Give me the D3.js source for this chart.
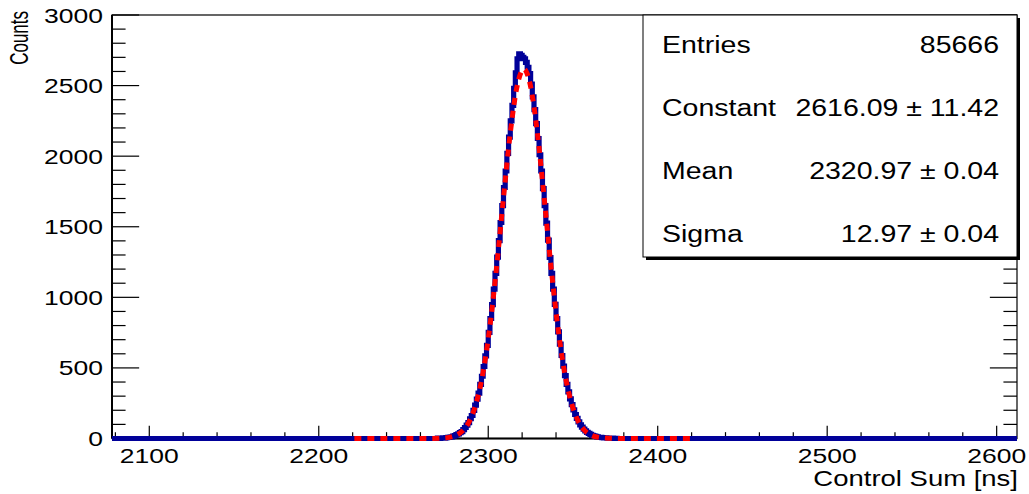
<!DOCTYPE html>
<html>
<head>
<meta charset="utf-8">
<script src="https://cdn.jsdelivr.net/npm/d3@7"></script>
<style>
  html, body { margin: 0; padding: 0; background: #fff; }
  svg { display: block; }
  text { font-family: "Liberation Sans", Arial, Helvetica, sans-serif; fill: #000; }
</style>
</head>
<body>
<svg id="main-svg"></svg>
<script>
// histogram: 1 ns bins, counts start at bin 2270, everything else is empty
const xRange = [2078, 2612];
const yRange = [0, 3000];
const histStart = 2270;
const histCounts = [
    2, 1, 3, 4, 3, 6, 8, 10, 12, 17,
    21, 27, 33, 42, 49, 63, 78, 95, 112, 140,
    163, 199, 236, 279, 322, 383, 441, 510, 585, 660,
    752, 850, 948, 1058, 1170, 1285, 1402, 1530, 1650, 1778,
    1895, 2020, 2135, 2250, 2360, 2480, 2590, 2690, 2725, 2715,
    2700, 2690, 2665, 2630, 2585, 2510, 2420, 2330, 2230, 2125,
    2010, 1895, 1770, 1650, 1525, 1405, 1282, 1170, 1058, 950,
    850, 756, 668, 588, 512, 446, 384, 330, 281, 240,
    203, 170, 142, 118, 97, 80, 66, 54, 44, 36,
    29, 23, 19, 15, 12, 9, 8, 6, 5, 4,
    3, 3, 2, 2, 1, 1
];

// gaussian fit curve (red dashed)
const fitX = [2221, 2262, 2267, 2273, 2277, 2281, 2285, 2289, 2293, 2297, 2301, 2305, 2309, 2313, 2317,
              2321, 2325, 2329, 2333, 2337, 2341, 2345, 2349, 2353, 2357, 2361, 2365, 2369, 2375, 2380, 2419];
const fitY = [0, 0, 0.5, 2.8, 8.3, 22.5, 55.5, 125, 255, 472, 797, 1222, 1705, 2163, 2494,
              2616, 2494, 2163, 1705, 1222, 797, 472, 255, 125, 55.5, 22.5, 8.3, 2.8, 0.5, 0, 0];

const xMajor = [2100, 2200, 2300, 2400, 2500, 2600];
const xMinor = d3.range(2080, 2612, 20);
const yMajor = [0, 500, 1000, 1500, 2000, 2500, 3000];
const yMinor = d3.range(0, 3001, 100);

const statNames = ["Entries", "Constant", "Mean", "Sigma"];
const statValues = ["85666", "2616.09 \u00b1 11.42", "2320.97 \u00b1 0.04", "12.97 \u00b1 0.04"];

const W = 1029, H = 494;
const frame = { left: 112, right: 1017, top: 15, bottom: 438.5 };
const squash = 0.79; // text in the picture is squeezed vertically

const svg = d3.select("#main-svg").attr("width", W).attr("height", H);

const x = d3.scaleLinear().domain(xRange).range([frame.left, frame.right]);
const y = d3.scaleLinear().domain(yRange).range([frame.bottom, frame.top]);

// frame
svg.append("rect")
    .attr("x", frame.left).attr("y", frame.top)
    .attr("width", frame.right - frame.left).attr("height", frame.bottom - frame.top)
    .attr("fill", "none").attr("stroke", "#000").attr("stroke-width", 1.2);

// y axis ticks (left + right)
const tickLenY = 0.03 * (frame.right - frame.left);
const tickLenX = 0.03 * (frame.bottom - frame.top);
const yt = svg.append("g");
yMinor.forEach(v => {
    const len = (v % 500 === 0) ? tickLenY : tickLenY / 2;
    yt.append("line").attr("x1", frame.left).attr("x2", frame.left + len)
        .attr("y1", y(v)).attr("y2", y(v)).attr("stroke", "#000").attr("stroke-width", 1.2);
    yt.append("line").attr("x1", frame.right).attr("x2", frame.right - len)
        .attr("y1", y(v)).attr("y2", y(v)).attr("stroke", "#000").attr("stroke-width", 1.2);
});
svg.append("line").attr("x1", frame.left).attr("x2", frame.left)
    .attr("y1", frame.top).attr("y2", frame.bottom).attr("stroke", "#000").attr("stroke-width", 2);

yMajor.forEach(v => {
    svg.append("text")
        .attr("transform", `translate(103, ${y(v) + 7.5}) scale(1, ${squash})`)
        .attr("text-anchor", "end")
        .attr("font-size", 26.5)
        .text(v);
});

// x axis ticks
const xt = svg.append("g");
xMinor.forEach(v => {
    const len = (v % 100 === 0) ? tickLenX : tickLenX / 2;
    xt.append("line").attr("x1", x(v)).attr("x2", x(v))
        .attr("y1", frame.bottom).attr("y2", frame.bottom - len)
        .attr("stroke", "#000").attr("stroke-width", 1.2);
});
svg.append("line").attr("x1", frame.left).attr("x2", frame.right)
    .attr("y1", frame.bottom).attr("y2", frame.bottom).attr("stroke", "#000").attr("stroke-width", 2);

xMajor.forEach(v => {
    svg.append("text")
        .attr("transform", `translate(${x(v)}, 463) scale(1, ${squash})`)
        .attr("text-anchor", "middle")
        .attr("font-size", 26.5)
        .text(v);
});

// axis titles
svg.append("text")
    .attr("transform", `translate(1018, 486) scale(1, ${squash})`)
    .attr("text-anchor", "end")
    .attr("font-size", 27.5)
    .text("Control Sum [ns]");

svg.append("text")
    .attr("transform", `translate(28, 11) scale(1, 0.68) rotate(-90)`)
    .attr("text-anchor", "end")
    .attr("font-size", 25)
    .text("Counts");

// histogram as steps
const nBins = xRange[1] - xRange[0];
const histPts = [];
for (let i = 0; i < nBins; i++) {
    const lo = xRange[0] + i;
    const k = lo - histStart;
    const c = (k >= 0 && k < histCounts.length) ? histCounts[k] : 0;
    histPts.push([lo, c], [lo + 1, c]);
}
svg.append("path")
    .datum(histPts)
    .attr("d", d3.line().x(d => x(d[0])).y(d => y(d[1])))
    .attr("fill", "none")
    .attr("stroke", "#000099")
    .attr("stroke-width", 5.2)
    .attr("stroke-linejoin", "miter");

// fit
svg.append("path")
    .datum(fitX.map((v, i) => [v, fitY[i]]))
    .attr("d", d3.line().x(d => x(d[0])).y(d => y(d[1])).curve(d3.curveMonotoneX))
    .attr("fill", "none")
    .attr("stroke", "#ff0000")
    .attr("stroke-width", 5)
    .attr("stroke-dasharray", "7,6");

// stat box
const box = { x0: 643, x1: 1017, y0: 15, y1: 257 };
svg.append("rect")
    .attr("x", box.x0 + 3).attr("y", box.y0 + 3)
    .attr("width", box.x1 - box.x0).attr("height", box.y1 - box.y0)
    .attr("fill", "#000");
svg.append("rect")
    .attr("x", box.x0).attr("y", box.y0)
    .attr("width", box.x1 - box.x0).attr("height", box.y1 - box.y0)
    .attr("fill", "#fff").attr("stroke", "#000").attr("stroke-width", 1);

statNames.forEach((name, i) => {
    const by = 53 + i * 63;
    svg.append("text")
        .attr("transform", `translate(662, ${by}) scale(1, 0.82)`)
        .attr("font-size", 28.5)
        .text(name);
    svg.append("text")
        .attr("transform", `translate(999, ${by}) scale(1, 0.82)`)
        .attr("text-anchor", "end")
        .attr("font-size", 28.5)
        .text(statValues[i]);
});
</script>
</body>
</html>
